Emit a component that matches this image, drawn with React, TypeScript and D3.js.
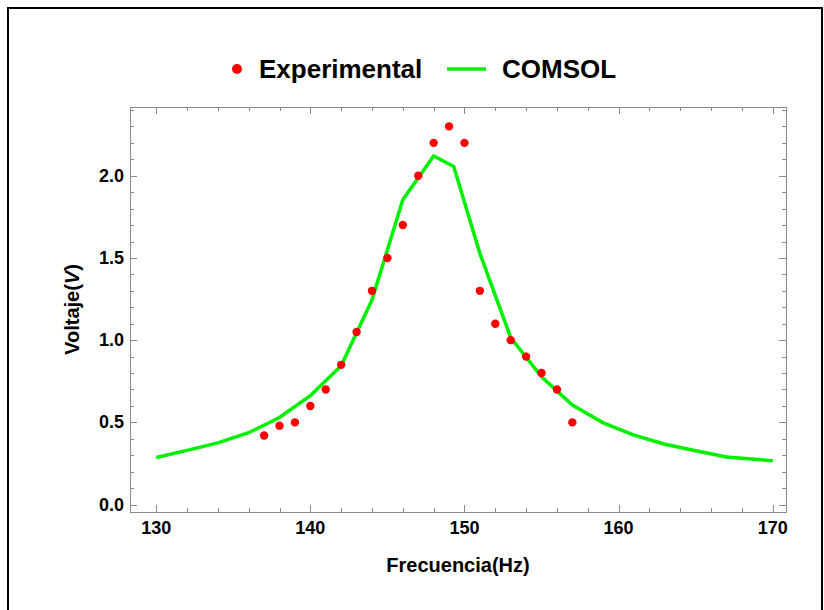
import { useEffect, useRef } from 'react';
import * as d3 from 'd3';

const W = 824, H = 610;
const M = { left: 130, top: 107, right: 786, bottom: 512 };

// measured points (Hz, V)
const expFreq = [137, 138, 139, 140, 141, 142, 143, 144, 145, 146, 147, 148, 149, 150, 151, 152, 153, 154, 155, 156, 157];
const expVolt = [0.42, 0.48, 0.5, 0.6, 0.7, 0.85, 1.05, 1.3, 1.5, 1.7, 2.0, 2.2, 2.3, 2.2, 1.3, 1.1, 1.0, 0.9, 0.8, 0.7, 0.5];

// simulation curve
const simFreq = [130, 132, 134, 136, 138, 140, 142, 144, 146, 148, 149.3, 151, 153, 155, 157, 159, 161, 163, 165, 167, 170];
const simVolt = [0.286, 0.33, 0.375, 0.437, 0.53, 0.662, 0.844, 1.245, 1.854, 2.12, 2.057, 1.528, 1.016, 0.777, 0.605, 0.497, 0.422, 0.367, 0.327, 0.29, 0.266];

const xMajor = [130, 140, 150, 160, 170];
const yMajor = [0.0, 0.5, 1.0, 1.5, 2.0];

const FONT = '"Liberation Sans", Arial, sans-serif';
const FRAME = '#8a8a8a';
const RED = '#ff0000';
const GREEN = '#00f000';

export default function App() {
  const svgRef = useRef<SVGSVGElement>(null);

  useEffect(() => {
    const svg = d3.select(svgRef.current);
    svg.selectAll('*').remove();

    const x = d3.scaleLinear().domain([128.3, 170.86]).range([M.left, M.right]);
    const y = d3.scaleLinear().domain([-0.045, 2.418]).range([M.bottom, M.top]);

    // outer border of the image
    svg.append('rect')
      .attr('x', 8).attr('y', 8).attr('width', 814).attr('height', 640)
      .attr('fill', 'none').attr('stroke', '#000').attr('stroke-width', 2);

    // minor/major tick values
    const xMinor = d3.range(130, 171, 2).filter((v) => v % 10 !== 0);
    const yMinor = d3.range(0, 25).map((i) => i / 10).filter((v) => Math.round(v * 10) % 5 !== 0);

    const g = svg.append('g');

    const ticks = g.append('g').attr('stroke', FRAME).attr('stroke-width', 1);
    const tickX = (v: number, len: number) => {
      const px = Math.round(x(v)) + 0.5;
      ticks.append('line').attr('x1', px).attr('x2', px).attr('y1', M.bottom).attr('y2', M.bottom - len);
      ticks.append('line').attr('x1', px).attr('x2', px).attr('y1', M.top).attr('y2', M.top + len);
    };
    const tickY = (v: number, len: number) => {
      const py = Math.round(y(v)) + 0.5;
      ticks.append('line').attr('y1', py).attr('y2', py).attr('x1', M.left).attr('x2', M.left + len);
      ticks.append('line').attr('y1', py).attr('y2', py).attr('x1', M.right).attr('x2', M.right - len);
    };
    xMajor.forEach((v) => tickX(v, 7));
    xMinor.forEach((v) => tickX(v, 4));
    yMajor.forEach((v) => tickY(v, 7));
    yMinor.forEach((v) => tickY(v, 4));

    g.append('rect')
      .attr('x', M.left + 0.5).attr('y', M.top + 0.5)
      .attr('width', M.right - M.left).attr('height', M.bottom - M.top)
      .attr('fill', 'none').attr('stroke', FRAME).attr('stroke-width', 1);

    // tick labels
    g.append('g').selectAll('text').data(xMajor).join('text')
      .attr('x', (d) => x(d)).attr('y', 534)
      .attr('text-anchor', 'middle')
      .attr('font-family', FONT).attr('font-weight', 'bold').attr('font-size', 18)
      .text((d) => String(d));
    g.append('g').selectAll('text').data(yMajor).join('text')
      .attr('x', 124).attr('y', (d) => y(d))
      .attr('text-anchor', 'end').attr('dominant-baseline', 'central')
      .attr('font-family', FONT).attr('font-weight', 'bold').attr('font-size', 18)
      .text((d) => d.toFixed(1));

    // axis titles
    g.append('text')
      .attr('x', (M.left + M.right) / 2).attr('y', 572)
      .attr('text-anchor', 'middle')
      .attr('font-family', FONT).attr('font-weight', 'bold').attr('font-size', 20)
      .text('Frecuencia(Hz)');
    const yt = g.append('text')
      .attr('transform', `translate(79,${(M.top + M.bottom) / 2}) rotate(-90)`)
      .attr('text-anchor', 'middle')
      .attr('font-family', FONT).attr('font-weight', 'bold').attr('font-size', 20);
    yt.append('tspan').text('Voltaje(');
    yt.append('tspan').attr('font-style', 'italic').text('V');
    yt.append('tspan').text(')');

    // COMSOL curve
    const line = d3.line<number>().x((d, i) => x(simFreq[i])).y((d) => y(d));
    g.append('path')
      .attr('d', line(simVolt))
      .attr('fill', 'none').attr('stroke', GREEN).attr('stroke-width', 3.5)
      .attr('stroke-linejoin', 'miter');

    // experimental points
    g.append('g').selectAll('circle').data(expVolt).join('circle')
      .attr('cx', (d, i) => x(expFreq[i])).attr('cy', (d) => y(d))
      .attr('r', 4.2).attr('fill', RED);

    // legend
    const lg = svg.append('g').attr('transform', 'translate(0,69)');
    lg.append('circle').attr('cx', 237).attr('cy', 0).attr('r', 5).attr('fill', RED);
    lg.append('text').attr('x', 259).attr('y', 0).attr('dominant-baseline', 'central')
      .attr('font-family', FONT).attr('font-weight', 'bold').attr('font-size', 26)
      .text('Experimental');
    lg.append('line').attr('x1', 447).attr('x2', 486).attr('y1', 0).attr('y2', 0)
      .attr('stroke', GREEN).attr('stroke-width', 3.5);
    lg.append('text').attr('x', 502).attr('y', 0).attr('dominant-baseline', 'central')
      .attr('font-family', FONT).attr('font-weight', 'bold').attr('font-size', 26)
      .text('COMSOL');
  }, []);

  return (
    <svg
      ref={svgRef}
      width={W}
      height={H}
      style={{ position: 'absolute', left: 0, top: 0, background: '#fff' }}
    />
  );
}
